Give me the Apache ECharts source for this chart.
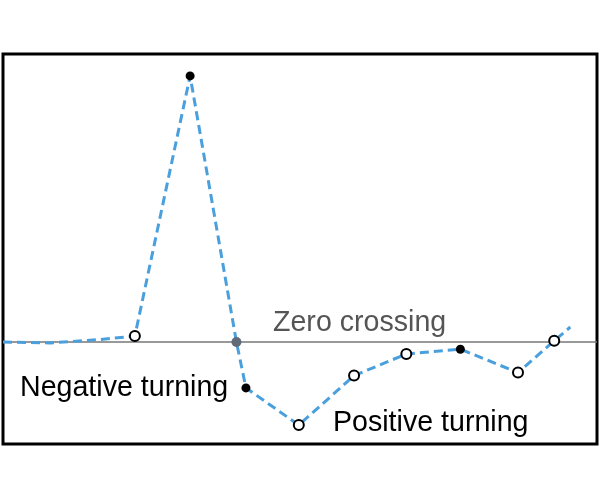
<!DOCTYPE html>
<html><head><meta charset="utf-8">
<script src="https://cdn.jsdelivr.net/npm/echarts@6/dist/echarts.min.js"></script>
<style>html,body{margin:0;padding:0;background:#fff}#c{width:600px;height:500px}</style>
</head><body><div id="c"></div>
<script>
// signal samples (x position, value)
var xs = [0, 7.9, 16.3, 22.2, 31.5, 39.3, 40.9, 49.8, 59.1, 67.9, 77.0, 86.7, 92.8, 95.5];
var ys = [0, -0.003, 0.008, 0.02, 0.887, 0, -0.153, -0.277, -0.112, -0.04, -0.024, -0.102, 0.004, 0.05];
// marker kinds by sample index
var filledIdx = [4, 6, 10];
var openIdx = [3, 7, 8, 9, 11, 12];
var crossIdx = [5];
var labels = ["Zero crossing", "Negative turning", "Positive turning"];

var lineData = xs.map(function(x, i){ return [x, ys[i]]; });
function pick(idx){ return idx.map(function(i){ return [xs[i], ys[i]]; }); }

var font = '28.6px "Liberation Sans", Arial, sans-serif';
var chart = echarts.init(document.getElementById('c'), null, {renderer:'canvas'});
chart.setOption({
  animation:false,
  grid:{left:3, top:54, width:594, height:390, show:true, borderColor:'#000', borderWidth:3, backgroundColor:'#fff'},
  xAxis:{type:'value', min:0, max:100, show:false},
  yAxis:{type:'value', min:-0.34, max:0.96, show:false},
  series:[
    {type:'line', data:lineData, showSymbol:false, symbol:'none', z:2,
     lineStyle:{color:'#4a9fdd', width:3, type:[9,5]},
     markLine:{silent:true, symbol:'none', label:{show:false},
       lineStyle:{color:'#777', width:1.5, type:'solid'}, data:[{yAxis:0}], z:1}},
    {type:'scatter', data:pick(openIdx), symbol:'circle', symbolSize:10, z:5,
     itemStyle:{color:'#fff', borderColor:'#000', borderWidth:2, opacity:1}},
    {type:'scatter', data:pick(filledIdx), symbol:'circle', symbolSize:9, z:5,
     itemStyle:{color:'#000', opacity:1}},
    {type:'scatter', data:pick(crossIdx), symbol:'circle', symbolSize:10, z:5,
     itemStyle:{color:'#606a78', opacity:1}}
  ],
  graphic:[
    {type:'text', left:273, top:309, style:{text:labels[0], fill:'#555', font:font}},
    {type:'text', left:20, top:374, style:{text:labels[1], fill:'#000', font:font}},
    {type:'text', left:333, top:409, style:{text:labels[2], fill:'#000', font:font}}
  ]
});
</script></body></html>
